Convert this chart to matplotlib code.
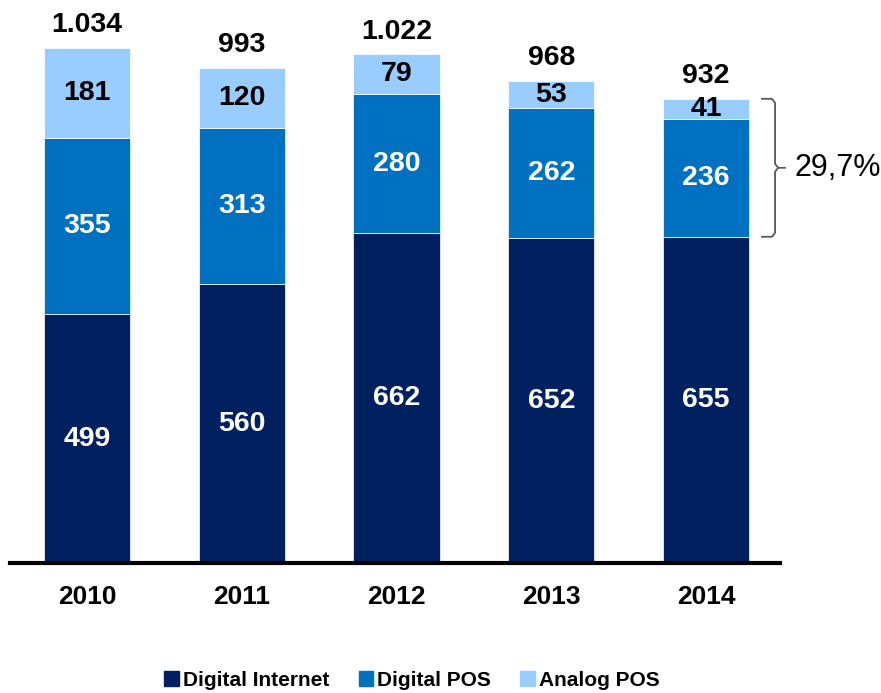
import matplotlib.pyplot as plt
from matplotlib.patches import Patch
import numpy as np

plt.rcParams['font.family'] = ['Liberation Sans', 'DejaVu Sans']

years = ['2010', '2011', '2012', '2013', '2014']
digital_internet = [499, 560, 662, 652, 655]
digital_pos = [355, 313, 280, 262, 236]
analog_pos = [181, 120, 79, 53, 41]
totals = ['1.034', '993', '1.022', '968', '932']
share_label = '29,7%'

c_dark = '#002060'
c_mid = '#0070C0'
c_light = '#99CCFF'

W, H = 881, 693
fig = plt.figure(figsize=(W / 100, H / 100), dpi=100)
ax = fig.add_axes([10 / W, (H - 563) / H, 770 / W, 515 / H])

x = np.arange(len(years))
w = 0.556
di = np.array(digital_internet)
dp = np.array(digital_pos)
ap = np.array(analog_pos)

ax.bar(x, di, w, color=c_dark, edgecolor='white', linewidth=0.5)
ax.bar(x, dp, w, bottom=di, color=c_mid, edgecolor='white', linewidth=0.5)
ax.bar(x, ap, w, bottom=di + dp, color=c_light, edgecolor='white', linewidth=0.5)

ax.set_xlim(-0.4976, 4.478)
ax.set_ylim(0, 1034)

fs = 20.5
for i in range(len(years)):
    ax.text(x[i], di[i] / 2, str(di[i]), ha='center', va='center',
            color='white', fontsize=fs, fontweight='bold')
    ax.text(x[i], di[i] + dp[i] / 2, str(dp[i]), ha='center', va='center',
            color='white', fontsize=fs, fontweight='bold')
    ax.text(x[i], di[i] + dp[i] + ap[i] / 2, str(ap[i]), ha='center', va='center',
            color='black', fontsize=fs, fontweight='bold')
    ax.text(x[i], di[i] + dp[i] + ap[i] + 20, totals[i], ha='center', va='bottom',
            color='black', fontsize=fs, fontweight='bold', clip_on=False)
    ax.text(x[i], -68, years[i], ha='center', va='center',
            color='black', fontsize=19, fontweight='bold', clip_on=False)

# bracket around the POS share of 2014
top = di[4] + dp[4] + ap[4]
bot = di[4]
mid = (top + bot) / 2
bx0, bx1, bx2 = 4.362, 4.446, 4.51
r = 8
ax.plot([bx0, bx1 - 0.02, bx1, bx1, bx1 + 0.02, bx2],
        [top, top, top - r, mid + r, mid, mid],
        color='#595959', lw=1.3, clip_on=False)
ax.plot([bx0, bx1 - 0.02, bx1, bx1, bx1 + 0.02],
        [bot, bot, bot + r, mid - r, mid],
        color='#595959', lw=1.3, clip_on=False)
ax.text(bx2 + 0.06, mid, share_label, ha='left', va='center',
        fontsize=22, color='black', clip_on=False)

for s in ['top', 'right', 'left']:
    ax.spines[s].set_visible(False)
ax.spines['bottom'].set_linewidth(3)
ax.set_xticks([])
ax.set_yticks([])

handles = [Patch(color=c_dark, label='Digital Internet'),
           Patch(color=c_mid, label='Digital POS'),
           Patch(color=c_light, label='Analog POS')]
fig.legend(handles=handles, loc='center', bbox_to_anchor=(412 / W, (H - 680) / H),
           ncol=3, frameon=False, handlelength=0.7, handleheight=0.7,
           handletextpad=0.2, columnspacing=1.4,
           prop={'weight': 'bold', 'size': 15})

fig.savefig('out.png', dpi=100)
